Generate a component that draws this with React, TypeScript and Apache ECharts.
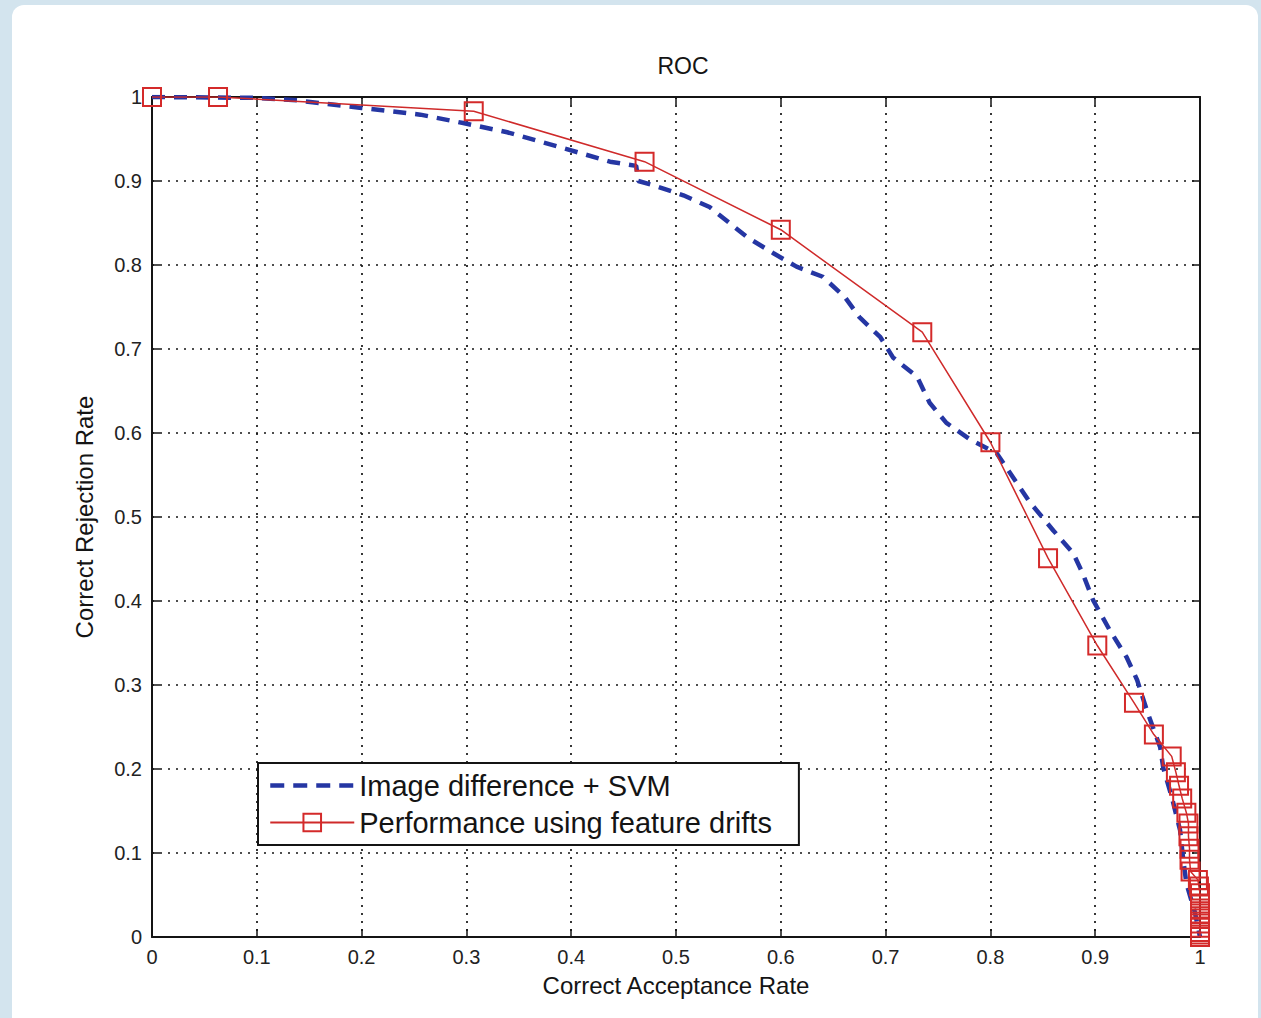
import React, { useEffect, useRef } from "react";
import * as echarts from "echarts";

const titleText = "ROC";
const xName = "Correct Acceptance Rate";
const yName = "Correct Rejection Rate";
const seriesNames = ["Image difference + SVM", "Performance using feature drifts"];

const blueX = [0, 0.1, 0.138, 0.2, 0.256, 0.297, 0.339, 0.39, 0.437, 0.462, 0.464, 0.478, 0.507, 0.532, 0.568, 0.593, 0.615, 0.64, 0.661, 0.675, 0.695, 0.707, 0.73, 0.742, 0.758, 0.781, 0.806, 0.838, 0.86, 0.879, 0.888, 0.898, 0.914, 0.93, 0.94, 0.95, 0.962, 0.965, 0.973, 0.981, 0.984, 0.987, 0.995, 1.0];
const blueY = [1.0, 0.999, 0.996, 0.987, 0.979, 0.969, 0.958, 0.94, 0.923, 0.918, 0.9, 0.895, 0.883, 0.869, 0.833, 0.814, 0.798, 0.786, 0.762, 0.738, 0.714, 0.69, 0.667, 0.636, 0.612, 0.592, 0.576, 0.517, 0.484, 0.457, 0.433, 0.401, 0.365, 0.333, 0.306, 0.267, 0.226, 0.201, 0.167, 0.127, 0.092, 0.064, 0.03, 0.0];

const redX = [0, 0.063, 0.307, 0.47, 0.6, 0.735, 0.8, 0.855, 0.902, 0.937, 0.956, 0.973, 0.977, 0.98, 0.983, 0.987, 0.989, 0.989, 0.99, 0.99, 0.991, 0.998, 0.999, 1.0, 1.0, 1.0, 1.0, 1.0, 1.0, 1.0, 1.0, 1.0, 1.0, 1.0];
const redY = [1.0, 1.0, 0.983, 0.923, 0.842, 0.72, 0.589, 0.451, 0.347, 0.279, 0.241, 0.215, 0.196, 0.18, 0.165, 0.148, 0.135, 0.12, 0.105, 0.092, 0.078, 0.068, 0.06, 0.052, 0.046, 0.04, 0.034, 0.028, 0.022, 0.016, 0.011, 0.006, 0.003, 0.0];

const pairs = (xs: number[], ys: number[]) => xs.map((x, i) => [x, ys[i]]);

export default function App() {
  const ref = useRef<HTMLDivElement>(null);
  useEffect(() => {
    const chart = echarts.init(ref.current!, null, { renderer: "svg" });
    const font = "Liberation Sans, Arial, sans-serif";
    const ink = "#141414";
    const blue = "#2536a3";
    const dotted = { color: ink, width: 1.7, type: [2, 6] };
    const axisLine = { show: true, onZero: false, lineStyle: { color: ink, width: 2 } };
    const axisTick = { show: true, inside: true, length: 8, lineStyle: { color: ink, width: 1.5 } };
    const labelStyle = { fontFamily: font, fontSize: 20, color: "#222" };
    const common = { type: "value", min: 0, max: 1, interval: 0.1 };

    chart.setOption({
      animation: false,
      backgroundColor: "#d3e4ee",
      graphic: {
        elements: [
          {
            type: "rect",
            z: -100,
            silent: true,
            shape: { x: 12, y: 5, width: 1246, height: 1040, r: 12 },
            style: { fill: "#ffffff" },
          },
        ],
      },
      title: {
        text: titleText,
        left: 678,
        top: 49,
        textAlign: "center",
        textStyle: { fontFamily: font, fontSize: 23, fontWeight: "normal", color: ink },
      },
      legend: {
        orient: "vertical",
        left: 258,
        top: 763,
        backgroundColor: "#ffffff",
        borderColor: ink,
        borderWidth: 2,
        borderRadius: 0,
        padding: [8, 27, 8, 10],
        itemGap: 8,
        itemWidth: 84,
        itemHeight: 22,
        textStyle: { fontFamily: font, fontSize: 29, color: ink },
        data: [
          {
            name: seriesNames[0],
            itemStyle: { color: "rgba(0,0,0,0)", borderColor: "rgba(0,0,0,0)", borderWidth: 0 },
            lineStyle: { color: blue, width: 4.5, type: [14, 9] },
          },
          { name: seriesNames[1] },
        ],
      },
      grid: { left: 152, top: 97, width: 1048, height: 840 },
      xAxis: [
        {
          ...common,
          position: "bottom",
          name: xName,
          nameLocation: "middle",
          nameGap: 36,
          nameTextStyle: { fontFamily: font, fontSize: 24, color: ink },
          axisLine,
          axisTick,
          axisLabel: { ...labelStyle, margin: 10 },
          splitLine: { show: true, lineStyle: dotted },
        },
        {
          ...common,
          position: "top",
          axisLine,
          axisTick,
          axisLabel: { show: false },
          splitLine: { show: false },
        },
      ],
      yAxis: [
        {
          ...common,
          position: "left",
          name: yName,
          nameLocation: "middle",
          nameGap: 56,
          nameTextStyle: { fontFamily: font, fontSize: 24, color: ink },
          axisLine,
          axisTick,
          axisLabel: { ...labelStyle, margin: 10 },
          splitLine: { show: true, lineStyle: dotted },
        },
        {
          ...common,
          position: "right",
          axisLine,
          axisTick,
          axisLabel: { show: false },
          splitLine: { show: false },
        },
      ],
      series: [
        {
          name: seriesNames[0],
          type: "line",
          data: pairs(blueX, blueY),
          showSymbol: false,
          symbol: "none",
          lineStyle: { color: blue, width: 4.5, type: [13, 9] },
          itemStyle: { color: blue },
          z: 3,
        },
        {
          name: seriesNames[1],
          type: "line",
          data: pairs(redX, redY),
          symbol: "rect",
          symbolSize: 18,
          lineStyle: { color: "#cf2a2a", width: 1.5 },
          itemStyle: { color: "rgba(255,255,255,0)", borderColor: "#d42a2a", borderWidth: 2 },
          z: 4,
        },
      ],
    });
    return () => chart.dispose();
  }, []);
  return (
    <div
      ref={ref}
      style={{ position: "fixed", left: 0, top: 0, width: 1261, height: 1018 }}
    />
  );
}
